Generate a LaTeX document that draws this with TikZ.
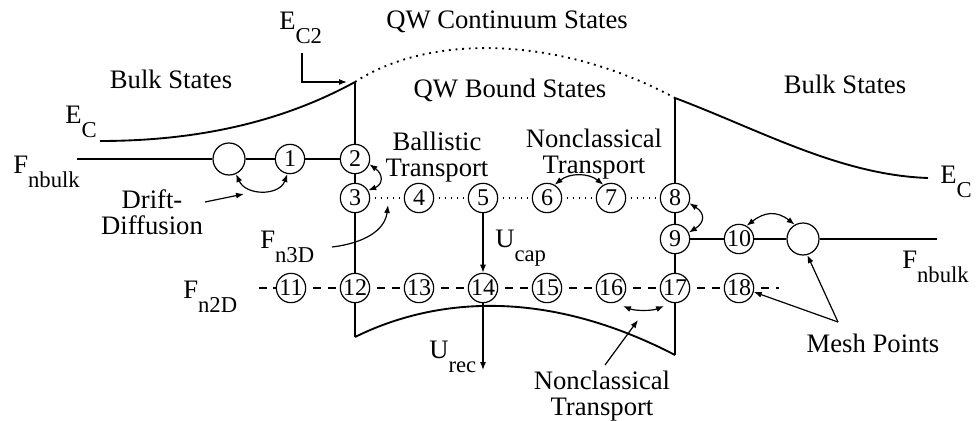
\documentclass[tikz,border=0pt]{standalone}
\usepackage{fontspec}
\setmainfont{Liberation Serif}
\usetikzlibrary{arrows.meta,calc}
\newcommand\lsub[1]{\raisebox{-10.5pt}{\fontsize{17}{17}\selectfont #1}}
\begin{document}
\begin{tikzpicture}[x=0.75pt,y=-0.75pt,
  mp/.style={circle,draw,line width=0.9pt,minimum size=22pt,inner sep=0pt,font=\fontsize{18}{18}\selectfont},
  bigmp/.style={mp,minimum size=24pt},
  lbl/.style={font=\fontsize{20}{19.5}\selectfont,inner sep=0pt},
  conn/.style={line width=1.1pt},
  dotrow/.style={line width=1.1pt,dash pattern=on 1.2pt off 3.3pt,dash phase=1.2pt},
  dashrow/.style={line width=1.1pt,dash pattern=on 6pt off 5pt,dash phase=6pt},
  band/.style={line width=1.4pt},
  dotband/.style={line width=1.4pt,dash pattern=on 1.4pt off 3.6pt},
  arr/.style={line width=0.9pt,-{Latex[length=6pt,width=4.5pt]}},
  darr/.style={line width=0.9pt,{Latex[length=6pt,width=4.5pt]}-{Latex[length=6pt,width=4.5pt]}}
]
\useasboundingbox (0,0) rectangle (979,421);

% mesh points
\node[bigmp] (m0) at (229,159) {};
\node[mp] (n1) at (290,159) {1};
\node[mp] (n2) at (355,159) {2};
\node[mp] (n3) at (355,198) {3};
\node[mp] (n4) at (419,198) {4};
\node[mp] (n5) at (483,198) {5};
\node[mp] (n6) at (547,198) {6};
\node[mp] (n7) at (611,198) {7};
\node[mp] (n8) at (675,198) {8};
\node[mp] (n9) at (675,239) {9};
\node[mp] (n10) at (739,239) {10};
\node[bigmp] (m19) at (803,239) {};
\node[mp] (n11) at (291,288) {11};
\node[mp] (n12) at (355,288) {12};
\node[mp] (n13) at (419,288) {13};
\node[mp] (n14) at (483,288) {14};
\node[mp] (n15) at (547,288) {15};
\node[mp] (n16) at (611,288) {16};
\node[mp] (n17) at (675,288) {17};
\node[mp] (n18) at (739,288) {18};

% band edge points
\coordinate (topL) at (355,82);
\coordinate (topR) at (675,98);
\coordinate (botL) at (355,337);
\coordinate (botR) at (675,355);
\coordinate (ecL) at (100,141);
\coordinate (ecR) at (928,178);
\coordinate (row1L) at (77,159);
\coordinate (row3R) at (937,239);
\coordinate (row4L) at (252,288);
\coordinate (row4R) at (779,288);

% labels
\node[lbl,anchor=base west] (ec2) at (279,29) {E\lsub{C2}};
\node[lbl,anchor=base] (qwc) at (507,28) {QW Continuum States};
\node[lbl,anchor=base] (qwb) at (510,97) {QW Bound States};
\node[lbl,anchor=base] (bulkL) at (171,88) {Bulk States};
\node[lbl,anchor=base] (bulkR) at (845,93) {Bulk States};
\node[lbl,anchor=base west] (ecLl) at (65,123) {E\lsub{C}};
\node[lbl,anchor=base west] (ecRl) at (940,183) {E\lsub{C}};
\node[lbl,anchor=base west] (fnbL) at (13,173) {F\lsub{nbulk}};
\node[lbl,anchor=base west] (fnbR) at (902,268) {F\lsub{nbulk}};
\node[lbl,align=center,anchor=north] (drift) at (152,189) {Drift-\\Diffusion};
\node[lbl,align=center,anchor=north] (ball) at (437,132) {Ballistic\\Transport};
\node[lbl,align=center,anchor=north] (nct) at (594,129) {Nonclassical\\Transport};
\node[lbl,anchor=base west] (fn3d) at (260,248) {F\lsub{n3D}};
\node[lbl,anchor=base west] (ucap) at (495,247) {U\lsub{cap}};
\node[lbl,anchor=base west] (fn2d) at (183,298) {F\lsub{n2D}};
\node[lbl,anchor=base west] (urec) at (429,358) {U\lsub{rec}};
\node[lbl,anchor=base] (mesh) at (873,352) {Mesh Points};
\node[lbl,align=center,anchor=north] (ncb) at (602,371) {Nonclassical\\Transport};

% band edges
\draw[band] (ecL) .. controls (220,141) and (300,112) .. (topL);
\draw[dotband] (topL) .. controls (430,33) and (560,36) .. (topR);
\draw[band] (topR) .. controls (760,130) and (840,175) .. (ecR);
\draw[band] (botL) .. controls (430,300) and (540,285) .. (botR);

% walls
\draw[conn] (topL) -- (n2);
\draw[conn] (n2) -- (n3);
\draw[conn] (n3) -- (n12);
\draw[conn] (n12) -- (botL);
\draw[conn] (topR) -- (n8);
\draw[conn] (n8) -- (n9);
\draw[conn] (n9) -- (n17);
\draw[conn] (n17) -- (botR);

% rows
\draw[conn] (row1L) -- (m0);
\draw[conn] (m0) -- (n1);
\draw[conn] (n1) -- (n2);
\draw[dotrow] (n3) -- (n4);
\draw[dotrow] (n4) -- (n5);
\draw[dotrow] (n5) -- (n6);
\draw[dotrow] (n6) -- (n7);
\draw[dotrow] (n7) -- (n8);
\draw[conn] (n9) -- (n10);
\draw[conn] (n10) -- (m19);
\draw[conn] (m19) -- (row3R);
\draw[dashrow] (row4L) -- (n11);
\draw[dashrow] (n11) -- (n12);
\draw[dashrow] (n12) -- (n13);
\draw[dashrow] (n13) -- (n14);
\draw[dashrow] (n14) -- (n15);
\draw[dashrow] (n15) -- (n16);
\draw[dashrow] (n16) -- (n17);
\draw[dashrow] (n17) -- (n18);
\draw[dashrow] (n18) -- (row4R);

% arrows
\coordinate (ec2s) at (302,53);
\coordinate (ec2t) at (347,82);
\draw[arr] (ec2s) |- (ec2t);
\draw[darr] (m0.-65) .. controls +(10,22) and +(-8,22) .. (n1.-100);
\coordinate (dfs) at (205,202);
\coordinate (dft) at (244,194);
\draw[arr] (dfs) -- (dft);
\draw[darr] (n3.30) .. controls +(15,-6) and +(14,10) .. (n2.-20);
\coordinate (f3s) at (332,247);
\coordinate (f3t) at (388,205);
\draw[arr] (f3s) .. controls (365,243) and (385,230) .. (f3t);
\draw[darr] (n6.60) .. controls +(15,-12) and +(-15,-12) .. (n7.120);
\draw[arr] (n5) -- (n14);
\coordinate (urect) at (483,370);
\draw[arr] (n14.south) -- (urect);
\draw[darr] (n8.-20) .. controls +(16,10) and +(16,-10) .. (n9.25);
\draw[darr] (n10.60) .. controls +(18,-14) and +(-18,-14) .. (m19.120);
\draw[darr] ($(n16)+(12,18)$) .. controls +(12,5) and +(-12,5) .. ($(n17)+(-11,18)$);
\coordinate (ncs) at (605,365);
\coordinate (nct2) at (638,320);
\draw[arr] (ncs) -- (nct2);
\coordinate (mps) at (838,322);
\draw[arr] (mps) -- (n18.-15);
\draw[arr] (mps) -- (m19.-75);
\end{tikzpicture}
\end{document}
